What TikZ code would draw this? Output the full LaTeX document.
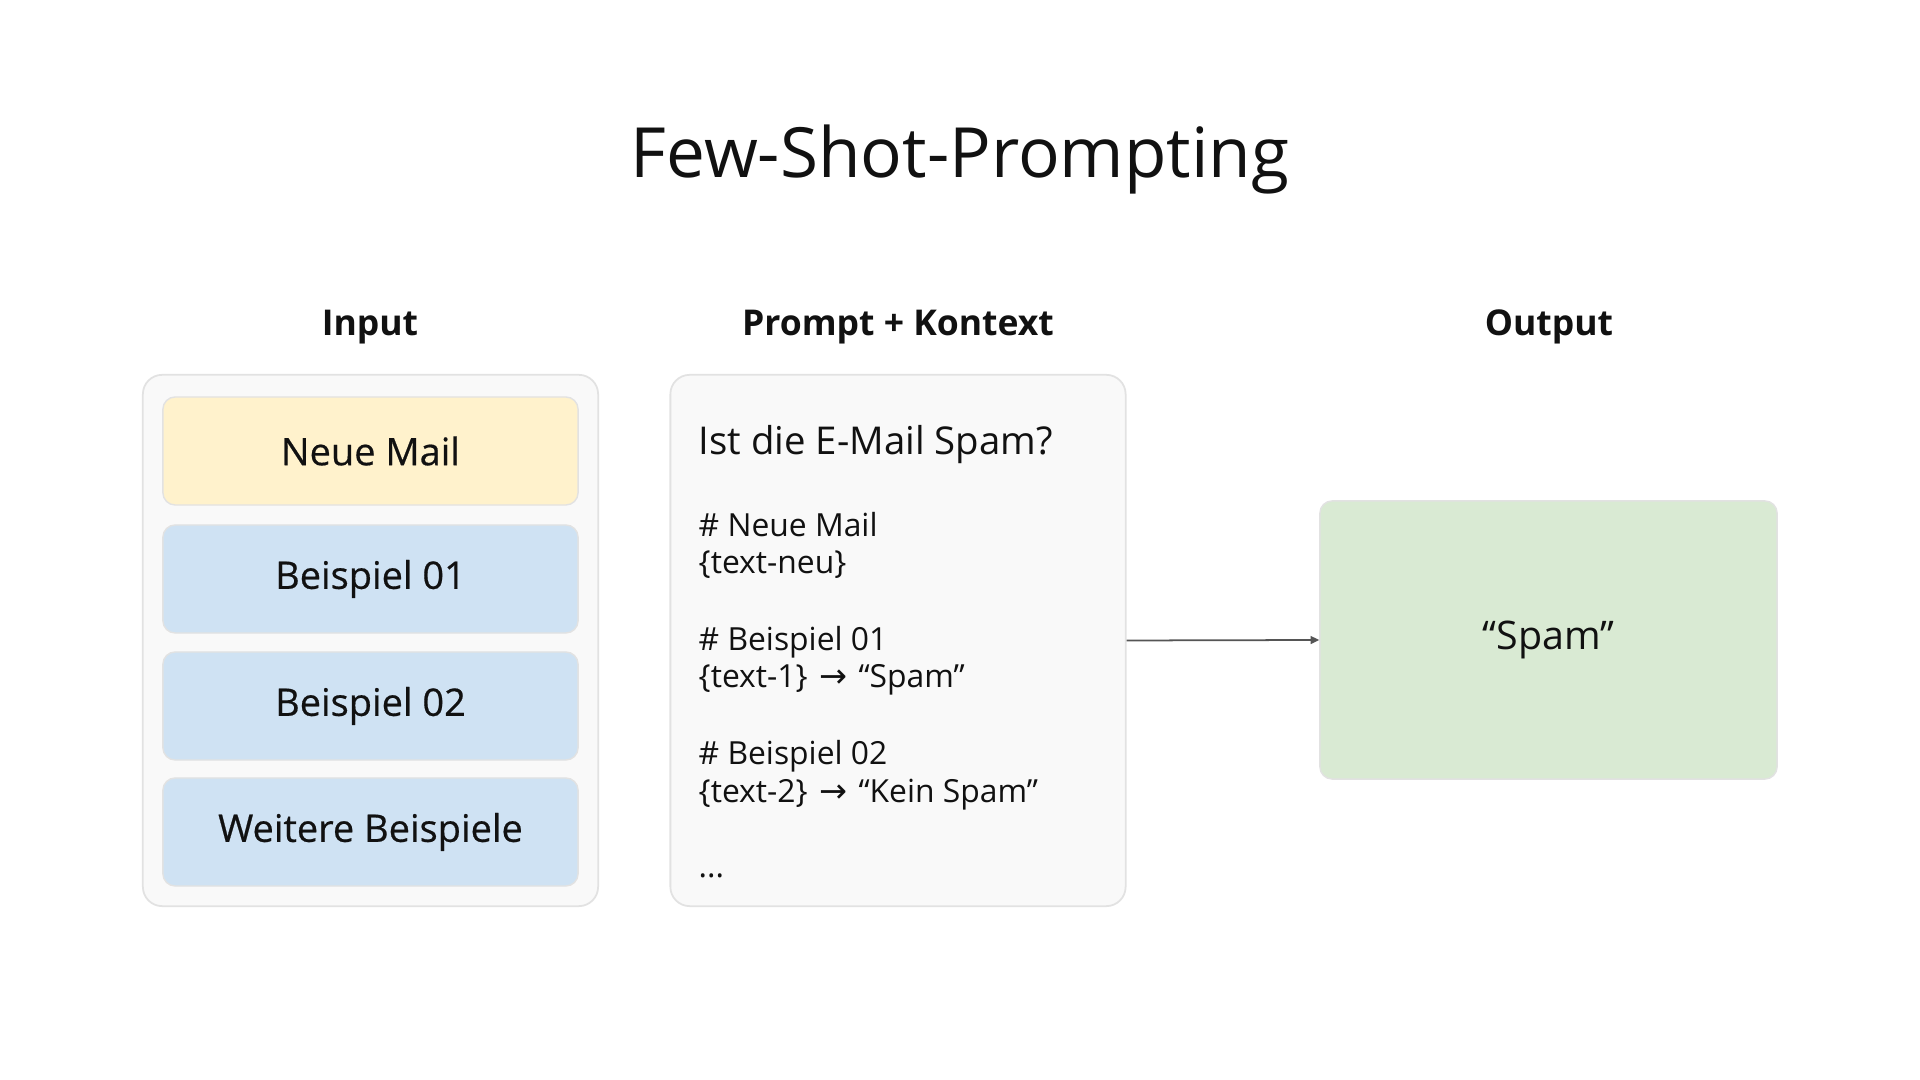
\documentclass[tikz,border=0pt]{standalone}
\usepackage{fontspec}
\setmainfont{Open Sans}
\newfontfamily\medfont[FakeBold=0.5]{Open Sans}
\newfontfamily\symfont[Scale=1.05]{DejaVu Sans}
\usetikzlibrary{positioning}
\usetikzlibrary{arrows.meta}
\definecolor{panelfill}{HTML}{F9F9F9}
\definecolor{panelline}{HTML}{E2E2E2}
\definecolor{mailfill}{HTML}{FFF2CC}
\definecolor{examplefill}{HTML}{CFE2F3}
\definecolor{outfill}{HTML}{D9EAD3}
\definecolor{inkcol}{HTML}{111111}
\definecolor{arrowcol}{HTML}{555555}
\newcommand{\toarrow}{\hspace{0.1em}{\symfont →}\hspace{0.1em}}
\tikzset{
    panel/.style = {rectangle, rounded corners=5.5pt, draw=panelline, line width=0.5pt, fill=panelfill, minimum width=4.55cm, minimum height=5.31cm},
    item/.style = {rectangle, rounded corners=3.5pt, draw=panelline, line width=0.4pt, minimum width=4.15cm, minimum height=1.08cm, text=inkcol, font=\medfont\fontsize{10.8}{12}\selectfont},
    mailitem/.style = {item, fill=mailfill},
    exitem/.style = {item, fill=examplefill},
    header/.style = {anchor=base, text=inkcol, font=\bfseries\fontsize{10.1}{12}\selectfont},
    promptline/.style = {anchor=base west, inner sep=0pt, text=inkcol, font=\fontsize{9.05}{10}\selectfont},
    flow/.style = {-{Triangle[length=2.4pt,width=2.2pt]}, line width=0.5pt, draw=arrowcol}
}

\begin{document}
\begin{tikzpicture}[x=0.01cm, y=-0.01cm]
  \useasboundingbox[fill=white] (0,0) rectangle (1920,1080);

  % title and column headers
  \node[anchor=base, text=inkcol, font=\fontsize{19.7}{23}\selectfont] (title) at (960,178) {Few-Shot-Prompting};
  \node[header] (hin) at (370,336) {Input};
  \node[header] (hprompt) at (898,336) {Prompt + Kontext};
  \node[header] (hout) at (1549,336) {Output};

  % input column
  \node[panel] (input) at (370.5,640.5) {};
  \node[mailitem] (mail) at (370.5,451) {Neue Mail};
  \node[exitem] (ex1) at (370.5,579) {Beispiel 01};
  \node[exitem] (ex2) at (370.5,706) {Beispiel 02};
  \node[exitem] (exn) at (370.5,832) {Weitere Beispiele};

  % prompt column
  \node[panel] (prompt) at (898,640.5) {};
  \node[promptline, font=\fontsize{10.9}{12}\selectfont] (q) at (698,455) {Ist die E-Mail Spam?};
  \node[promptline] (p1) at (698,537) {\# Neue Mail};
  \node[promptline] (p2) at (698,574) {\{text-neu\}};
  \node[promptline] (p3) at (698,651) {\# Beispiel 01};
  \node[promptline] (p4) at (698,688) {\{text-1\} \toarrow{} “Spam”};
  \node[promptline] (p5) at (698,765) {\# Beispiel 02};
  \node[promptline] (p6) at (698,803) {\{text-2\} \toarrow{} “Kein Spam”};
  \node[promptline] (p7) at (698,878) {...};

  % output
  \node[rectangle, rounded corners=3.5pt, draw=panelline, line width=0.4pt, fill=outfill, minimum width=4.57cm, minimum height=2.78cm, text=inkcol, font=\fontsize{11.2}{13}\selectfont] (out) at (1548.5,640) {“Spam”};

  \draw[flow] (prompt.east) -- (out.west);

\end{tikzpicture}
\end{document}
